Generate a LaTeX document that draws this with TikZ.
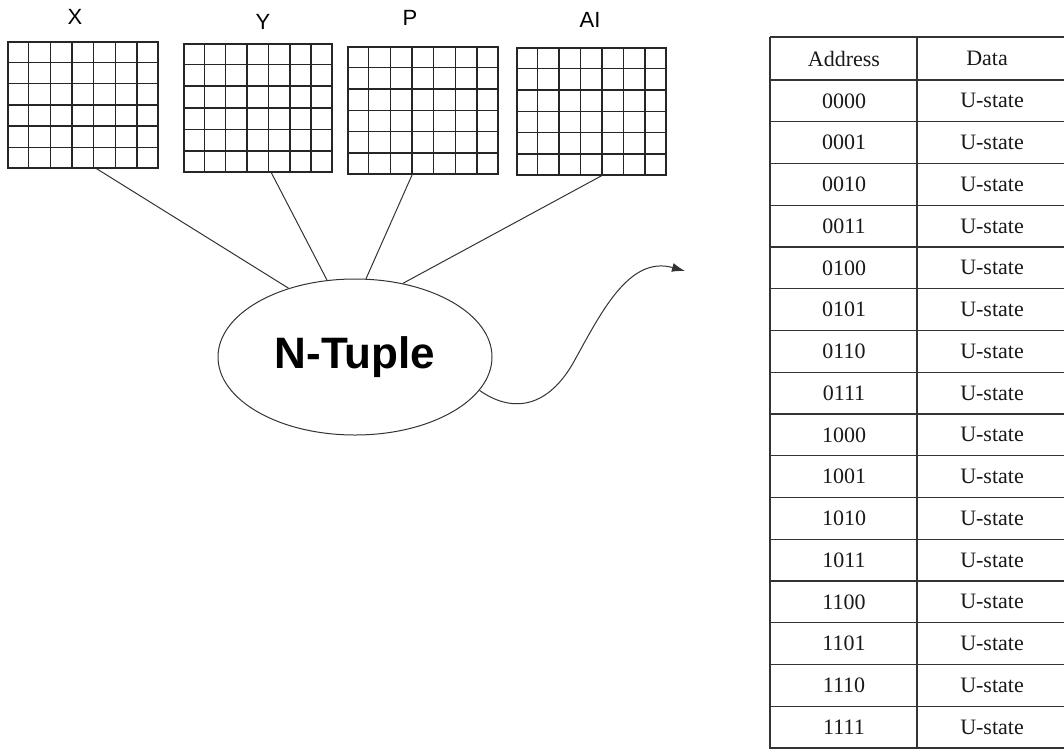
\documentclass[tikz,border=0pt]{standalone}
\usepackage{fontspec}
\setmainfont{Liberation Serif}
\newfontfamily\lsans{Liberation Sans}
\usetikzlibrary{calc,shapes.geometric,arrows.meta}
\tikzset{
  gridbox/.style={draw=black!85, line width=1.6pt, inner sep=0pt, anchor=north west},
  gridline/.style={draw=black!85, line width=1.5pt},
  gridlabel/.style={font=\lsans\fontsize{22}{24}\selectfont, inner sep=0pt},
  link/.style={draw=black!80, line width=1pt},
  tupnode/.style={ellipse, draw=black!80, line width=1pt, minimum width=274pt, minimum height=156pt, inner sep=0pt,
    font=\lsans\bfseries\fontsize{44}{48}\selectfont},
  tabline/.style={draw=black!80, line width=1.4pt},
  tabtext/.style={font=\fontsize{22}{24}\selectfont, inner sep=0pt, text=black!90},
}
\begin{document}
\begin{tikzpicture}[x=1pt,y=-1pt]
\useasboundingbox (0,0) rectangle (1064,750);
% grids
\node[gridbox, minimum width=150pt, minimum height=126pt] (gx) at (7,41) {};
\node[gridbox, minimum width=148pt, minimum height=128pt] (gy) at (183,43) {};
\node[gridbox, minimum width=150pt, minimum height=127pt] (gp) at (347,46) {};
\node[gridbox, minimum width=149pt, minimum height=127pt] (ga) at (516,47) {};
\foreach \g in {gx,gy,gp,ga}{
  \foreach \i in {1,...,6}{
    \draw[gridline] ($(\g.north west)!\i/7!(\g.north east)$) -- ($(\g.south west)!\i/7!(\g.south east)$);
  }
  \foreach \j in {1,...,5}{
    \draw[gridline] ($(\g.north west)!\j/6!(\g.south west)$) -- ($(\g.north east)!\j/6!(\g.south east)$);
  }
}
\node[gridlabel] (lx) at (75,17) {X};
\node[gridlabel] (ly) at (263,22) {Y};
\node[gridlabel] (lp) at (410,18) {P};
\node[gridlabel] (la) at (590,20) {AI};
% N-Tuple
\node[tupnode] (nt) at (355,357) {N-Tuple};
\draw[link] ($(gx.south west)!0.59!(gx.south east)$) -- (nt.134);
\draw[link] ($(gy.south west)!0.59!(gy.south east)$) -- (nt.110);
\draw[link] ($(gp.south west)!0.43!(gp.south east)$) -- (nt.82);
\draw[link] ($(ga.south west)!0.57!(ga.south east)$) -- (nt.57);
\coordinate (tip) at (685,271);
\draw[link, -{Latex[length=13pt,width=9pt]}] (nt.-15) .. controls (510,412) and (545,410) .. (572,365)
   .. controls (600,315) and (628,255) .. (tip);
% table
\def\rh{41.75}
\draw[tabline] (770,37) -- (1064,37);
\draw[tabline] (770,37) -- (770,748) -- (1064,748);
\draw[tabline] (917,37) -- (917,748);
\draw[tabline] (770,80) -- (1064,80);
\foreach \k in {1,...,15}{
  \draw[tabline] (770,80+\k*\rh) -- (1064,80+\k*\rh);
}
\node[tabtext] (hA) at (844,58.5) {Address};
\node[tabtext] (hD) at (987,58.5) {Data};
\foreach \a [count=\k from 0] in {0000,0001,0010,0011,0100,0101,0110,0111,1000,1001,1010,1011,1100,1101,1110,1111}{
  \node[tabtext] (a\k) at (844,80+\rh*\k+\rh/2) {\a};
  \node[tabtext] (d\k) at (992,80+\rh*\k+\rh/2) {U-state};
}
\end{tikzpicture}
\end{document}
